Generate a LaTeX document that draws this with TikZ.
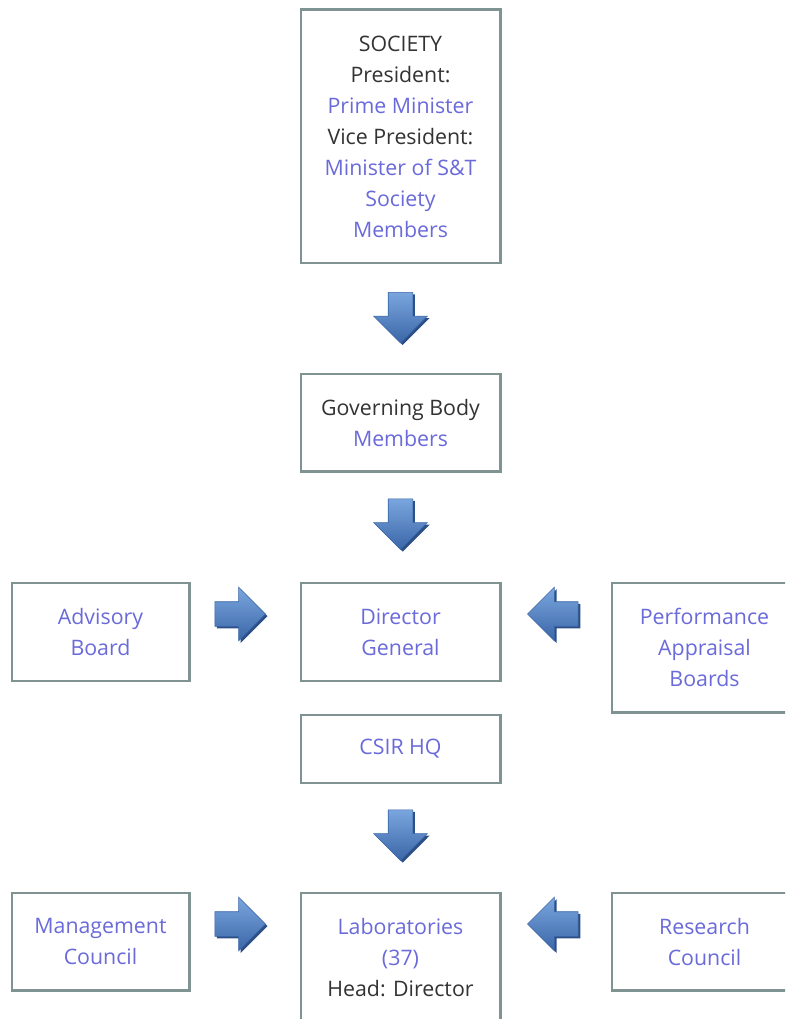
\documentclass[tikz,border=0pt]{standalone}
\usepackage{fontspec}
\setmainfont{Open Sans}
\usetikzlibrary{shapes.arrows,shadows,calc}
\definecolor{boxline}{HTML}{7F9393}
\definecolor{bluetext}{HTML}{6A6ADB}
\definecolor{blacktext}{HTML}{333333}
\definecolor{arrowlight}{HTML}{7AA6DE}
\definecolor{arrowdark}{HTML}{3B66A8}
\definecolor{arrowshade}{HTML}{2C4F86}

\begin{document}
\begin{tikzpicture}[x=0.75pt,y=-0.75pt,
  orgbox/.style={draw=boxline,line width=2.2pt,fill=white,align=center,inner sep=0pt,
    font=\fontsize{16}{23.25}\selectfont,text=blacktext},
  blockarrow/.style={single arrow,single arrow head extend=11pt,inner xsep=2pt,inner ysep=9pt,
    minimum height=38pt,draw=arrowdark,line width=0.4pt,
    top color=arrowlight,bottom color=arrowdark,
    drop shadow={fill=arrowshade,opacity=1,shadow xshift=1.6pt,shadow yshift=-1.6pt}}]
  \useasboundingbox (0,0) rectangle (785,1019);
  \clip (0,0) rectangle (785,1019);

  % Society
  \node[orgbox,minimum width=149.3pt,minimum height=189.8pt] (society) at (400.5,136.5)
    {SOCIETY\\President:\\\textcolor{bluetext}{Prime Minister}\\Vice President:\\
     \textcolor{bluetext}{Minister of S\&T}\\\textcolor{bluetext}{Society}\\\textcolor{bluetext}{Members}};

  % Governing Body
  \node[orgbox,minimum width=149.3pt,minimum height=72.8pt] (gov) at (400.5,422.5)
    {Governing Body\\\textcolor{bluetext}{Members}};

  % Director General row
  \node[orgbox,minimum width=132.8pt,minimum height=73.5pt] (advisory) at (100.5,632)
    {\textcolor{bluetext}{Advisory}\\\textcolor{bluetext}{Board}};
  \node[orgbox,minimum width=149.3pt,minimum height=73.5pt] (dg) at (400.5,632)
    {\textcolor{bluetext}{Director}\\\textcolor{bluetext}{General}};
  \node[orgbox,minimum width=138.8pt,minimum height=96.8pt] (perf) at (704.5,647.5)
    {\textcolor{bluetext}{Performance}\\\textcolor{bluetext}{Appraisal}\\\textcolor{bluetext}{Boards}};

  % CSIR HQ
  \node[orgbox,minimum width=149.3pt,minimum height=51pt] (csir) at (400.5,749)
    {\textcolor{bluetext}{CSIR HQ}};

  % Laboratories row
  \node[orgbox,minimum width=132.8pt,minimum height=72.8pt] (mgmt) at (100.5,941.5)
    {\textcolor{bluetext}{Management}\\\textcolor{bluetext}{Council}};
  \node[orgbox,minimum width=149.3pt,minimum height=97.5pt] (labs) at (400.5,958)
    {\textcolor{bluetext}{Laboratories}\\\textcolor{bluetext}{(37)}\\Head: Director};
  \node[orgbox,minimum width=138.8pt,minimum height=72.8pt] (research) at (704.5,941.5)
    {\textcolor{bluetext}{Research}\\\textcolor{bluetext}{Council}};

  % Block arrows
  \node[blockarrow,rotate=-90] (down1) at ($(society.south)!0.5!(gov.north)+(0,-7)$) {};
  \node[blockarrow,rotate=-90] (down2) at ($(gov.south)!0.5!(dg.north)+(0,-9)$) {};
  \node[blockarrow,rotate=-90] (down3) at ($(csir.south)!0.5!(labs.north)+(0,-9)$) {};
  \node[blockarrow] (right1) at (234,614) {};
  \node[blockarrow,rotate=180] (left1) at (559,614) {};
  \node[blockarrow] (right2) at (234,924) {};
  \node[blockarrow,rotate=180] (left2) at (559,924) {};
\end{tikzpicture}
\end{document}
